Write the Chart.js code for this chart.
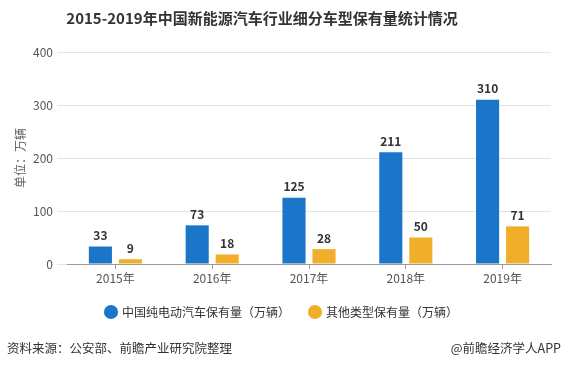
<!DOCTYPE html>
<html>
<head>
<meta charset="utf-8">
<script src="https://cdn.jsdelivr.net/npm/chart.js@4/dist/chart.umd.min.js"></script>
<style>
  html, body { margin: 0; padding: 0; background: #fff; }
  #wrap { width: 565px; height: 366px; position: relative; }
</style>
</head>
<body>
<div id="wrap"><canvas id="c" width="565" height="366"></canvas></div>
<script>
// 数据
var years = ['2015年', '2016年', '2017年', '2018年', '2019年'];
var pureEV = [33, 73, 125, 211, 310];
var otherTypes = [9, 18, 28, 50, 71];
var seriesNames = ['中国纯电动汽车保有量（万辆）', '其他类型保有量（万辆）'];

var FONT = '"Noto Sans CJK SC", "Microsoft YaHei", sans-serif';

// 标题・资料来源・数值标签
var extraText = {
  id: 'extraText',
  afterDatasetsDraw: function (chart) {
    var ctx = chart.ctx;
    ctx.save();
    // 数值标签
    ctx.font = 'bold 12px ' + FONT;
    ctx.fillStyle = '#333';
    ctx.textAlign = 'center';
    ctx.textBaseline = 'bottom';
    chart.data.datasets.forEach(function (ds, i) {
      chart.getDatasetMeta(i).data.forEach(function (bar, j) {
        ctx.fillText(ds.data[j], bar.x, bar.y - 5);
      });
    });
    // 标题
    ctx.font = 'bold 15px ' + FONT;
    ctx.fillStyle = '#333';
    ctx.textBaseline = 'middle';
    ctx.fillText('2015-2019年中国新能源汽车行业细分车型保有量统计情况', 262, 18);
    // 资料来源
    ctx.font = '12.5px ' + FONT;
    ctx.textAlign = 'left';
    ctx.fillText('资料来源：公安部、前瞻产业研究院整理', 7, 348);
    ctx.textAlign = 'right';
    ctx.fillText('@前瞻经济学人APP', 561, 348);
    ctx.restore();
  }
};

new Chart(document.getElementById('c'), {
  type: 'bar',
  data: {
    labels: years,
    datasets: [{
      label: seriesNames[0],
      data: pureEV,
      backgroundColor: '#1b76c9',
      categoryPercentage: 0.62,
      barPercentage: 0.77
    }, {
      label: seriesNames[1],
      data: otherTypes,
      backgroundColor: '#f0ae2a',
      categoryPercentage: 0.62,
      barPercentage: 0.77
    }]
  },
  options: {
    responsive: false,
    animation: false,
    layout: { padding: { top: 52, right: 14, bottom: 38, left: 13 } },
    plugins: {
      legend: {
        position: 'bottom',
        labels: {
          usePointStyle: true,
          pointStyle: 'circle',
          boxWidth: 10,
          boxHeight: 10,
          padding: 20,
          color: '#333',
          font: { family: FONT, size: 12 }
        }
      },
      tooltip: { enabled: false }
    },
    scales: {
      x: {
        grid: { display: true, drawOnChartArea: false, offset: false, tickLength: 5, color: '#999' },
        border: { color: '#999' },
        ticks: { color: '#555', font: { family: FONT, size: 12 }, padding: 2 },
        afterFit: function (s) { s.height = 22; }
      },
      y: {
        min: 0,
        max: 400,
        ticks: { stepSize: 100, color: '#555', font: { family: FONT, size: 12 }, padding: 4 },
        grid: { color: '#e3e3e3', tickLength: 10 },
        border: { display: false },
        title: { display: true, text: '单位：万辆', color: '#666', font: { family: FONT, size: 12 }, padding: 0 },
        afterFit: function (s) { s.width = 54; }
      }
    }
  },
  plugins: [extraText]
});
</script>
</body>
</html>
